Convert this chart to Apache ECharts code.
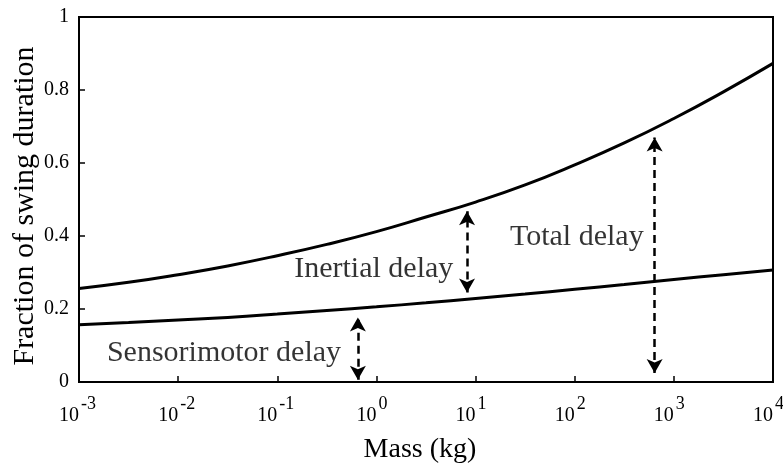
<!DOCTYPE html>
<html>
<head>
<meta charset="utf-8">
<script src="https://cdn.jsdelivr.net/npm/echarts@6/dist/echarts.min.js"></script>
<style>
  html, body { margin: 0; padding: 0; background: #fff; }
  #chart { width: 783px; height: 466px; }
</style>
</head>
<body>
<div id="chart"></div>
<script>
// masses (kg) at every half decade
const massValues = [0.001, 0.00316, 0.01, 0.0316, 0.1, 0.316, 1, 3.16, 10, 31.6, 100, 316, 1000, 3162, 10000];
// upper curve = total delay, lower curve = sensorimotor delay
const totalDelay = [0.256, 0.273, 0.294, 0.318, 0.346, 0.377, 0.412, 0.452, 0.493, 0.540, 0.595, 0.655, 0.722, 0.795, 0.873];
const sensorimotorDelay = [0.157, 0.163, 0.170, 0.177, 0.186, 0.196, 0.206, 0.217, 0.229, 0.241, 0.254, 0.267, 0.281, 0.294, 0.307];
const yTicks = [0, 0.2, 0.4, 0.6, 0.8, 1];

// double-headed dashed arrows: [mass, from, to]
const arrowX = [0.65, 8.2, 640];
const arrowFrom = [0.006, 0.245, 0.025];
const arrowTo = [0.177, 0.468, 0.670];

// text annotations
const noteText = ['Sensorimotor delay', 'Inertial delay', 'Total delay'];
const noteMass = [0.029, 0.94, 105];
const noteValue = [0.079, 0.31, 0.397];

const serif = '"Liberation Serif", "Times New Roman", serif';

const chart = echarts.init(document.getElementById('chart'));

const pairs = (xs, ys) => xs.map((x, i) => [x, ys[i]]);

// shared settings for the two log x axes (the second one only draws the exponents)
const logAxisBase = {
    type: 'log',
    logBase: 10,
    min: massValues[0],
    max: massValues[massValues.length - 1],
    position: 'bottom',
    gridIndex: 0,
    minorTick: { show: false },
    splitLine: { show: false }
};

const option = {
    animation: false,
    textStyle: { fontFamily: serif, color: '#000' },
    grid: {
        left: 79, right: 10, top: 17, bottom: 84,
        containLabel: false,
        outerBoundsMode: 'none',
        show: true, borderColor: '#000', borderWidth: 2,
        backgroundColor: 'transparent'
    },
    xAxis: [
        Object.assign({}, logAxisBase, {
            name: 'Mass (kg)',
            nameLocation: 'middle',
            nameGap: 54,
            nameMoveOverlap: false,
            nameTextStyle: { fontFamily: serif, fontSize: 28, color: '#000', padding: [0, 12, 0, 0] },
            axisLine: { lineStyle: { color: '#000', width: 2 } },
            axisTick: { inside: true, length: 6, lineStyle: { color: '#000', width: 1.5 } },
            axisLabel: {
                margin: 34,
                align: 'right',
                verticalAlign: 'middle',
                showMinLabel: true,
                showMaxLabel: true,
                fontFamily: serif,
                fontSize: 20,
                color: '#000',
                formatter: () => '10'
            }
        }),
        Object.assign({}, logAxisBase, {
            axisLine: { show: false },
            axisTick: { show: false },
            axisLabel: {
                margin: 22,
                align: 'left',
                verticalAlign: 'middle',
                padding: [0, 0, 0, 2],
                showMinLabel: true,
                showMaxLabel: true,
                fontFamily: serif,
                fontSize: 18,
                color: '#000',
                formatter: v => String(Math.round(Math.log10(v)))
            }
        })
    ],
    yAxis: {
        type: 'value',
        min: yTicks[0],
        max: yTicks[yTicks.length - 1],
        interval: 0.2,
        name: 'Fraction of swing duration',
        nameLocation: 'middle',
        nameGap: 39,
        nameMoveOverlap: false,
        nameTextStyle: { fontFamily: serif, fontSize: 30, color: '#000', padding: [0, 13, 0, 0] },
        axisLine: { show: true, lineStyle: { color: '#000', width: 2 } },
        axisTick: { show: true, inside: true, length: 6, lineStyle: { color: '#000', width: 1.5 } },
        splitLine: { show: false },
        axisLabel: {
            margin: 10,
            fontFamily: serif,
            fontSize: 20,
            color: '#000',
            formatter: v => String(Math.round(v * 10) / 10)
        }
    },
    series: [
        {
            name: 'Total delay',
            type: 'line',
            data: pairs(massValues, totalDelay),
            smooth: true,
            showSymbol: false,
            lineStyle: { color: '#000', width: 3 }
        },
        {
            name: 'Sensorimotor delay',
            type: 'line',
            data: pairs(massValues, sensorimotorDelay),
            smooth: true,
            showSymbol: false,
            lineStyle: { color: '#000', width: 3 },
            markLine: {
                silent: true,
                symbol: ['arrow', 'arrow'],
                symbolSize: [12, 14],
                label: { show: false },
                lineStyle: { color: '#000', width: 2.5, type: [8, 5] },
                data: arrowX.map((x, i) => [
                    { coord: [x, arrowFrom[i]] },
                    { coord: [x, arrowTo[i]] }
                ])
            }
        },
        {
            name: 'notes',
            type: 'scatter',
            symbolSize: 0,
            silent: true,
            data: noteText.map((t, i) => ({ name: t, value: [noteMass[i], noteValue[i]] })),
            label: {
                show: true,
                position: 'inside',
                formatter: p => p.name,
                fontFamily: serif,
                fontSize: 30,
                color: '#000'
            }
        }
    ]
};

chart.setOption(option);
window.addEventListener('resize', function () {
    chart.resize();
});
</script>
</body>
</html>
